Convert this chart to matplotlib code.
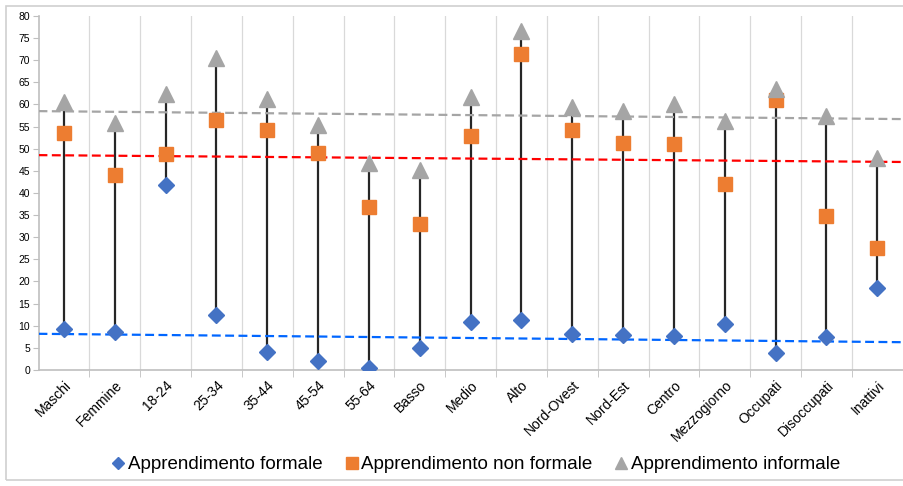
import matplotlib.pyplot as plt
import numpy as np

categorie = ['Maschi', 'Femmine', '18-24', '25-34', '35-44', '45-54', '55-64',
             'Basso', 'Medio', 'Alto', 'Nord-Ovest', 'Nord-Est', 'Centro',
             'Mezzogiorno', 'Occupati', 'Disoccupati', 'Inattivi']
formale = [9.3, 8.5, 41.7, 12.5, 4.1, 2.0, 0.5, 5.0, 10.9, 11.3,
           8.0, 7.9, 7.7, 10.4, 3.9, 7.4, 18.5]
non_formale = [53.6, 44.0, 48.9, 56.5, 54.2, 49.1, 36.8, 33.0, 52.9, 71.4,
               54.2, 51.3, 51.1, 42.0, 61.1, 34.8, 27.6]
informale = [60.5, 55.8, 62.4, 70.5, 61.2, 55.4, 46.8, 45.2, 61.6, 76.6,
             59.5, 58.5, 60.1, 56.3, 63.6, 57.4, 47.8]

# dashed reference lines (value at left edge, value at right edge)
linea_formale = [8.15, 6.25]
linea_non_formale = [48.55, 47.0]
linea_informale = [58.5, 56.7]

plt.rcParams['font.family'] = ['Liberation Sans', 'DejaVu Sans']

fig = plt.figure(figsize=(9.04, 4.86), dpi=100)
ax = fig.add_axes([0.0426, 0.239, 0.956, 0.728])

x = np.arange(len(categorie))
vals = np.array([formale, non_formale, informale])
lo = vals.min(axis=0)
hi = vals.max(axis=0)

ax.vlines(x, lo, hi, colors='#262626', linewidth=1.6, zorder=2)

edges = [x[0] - 0.5, x[-1] + 0.5]
ax.plot(edges, linea_informale, color='#A5A5A5', ls=(0, (4, 2)), lw=1.6, zorder=3)
ax.plot(edges, linea_non_formale, color='#FF0000', ls=(0, (4, 2)), lw=1.6, zorder=3)
ax.plot(edges, linea_formale, color='#0066FF', ls=(0, (4, 2)), lw=1.6, zorder=3)

ax.plot(x, formale, 'D', color='#4472C4', ms=8, ls='none', zorder=4,
        label='Apprendimento formale')
ax.plot(x, non_formale, 's', color='#ED7D31', ms=10, ls='none', zorder=4,
        label='Apprendimento non formale')
ax.plot(x, informale, '^', color='#A5A5A5', ms=11, ls='none', zorder=5,
        label='Apprendimento informale')

ax.set_xlim(edges)
ax.set_ylim(0, 80)
ax.set_yticks(np.arange(0, 81, 5))
ax.tick_params(axis='y', labelsize=7.5, length=4, color='#BFBFBF', pad=2)

ax.set_xticks(x)
ax.set_xticklabels(categorie, rotation=45, ha='right', rotation_mode='anchor',
                   fontsize=10)
ax.tick_params(axis='x', length=0, pad=6)
ax.set_xticks(np.arange(0.5, len(categorie) - 1, 1), minor=True)
ax.tick_params(axis='x', which='minor', length=5, color='#BFBFBF')
ax.grid(axis='x', which='minor', color='#D9D9D9', lw=0.9)

for side in ['top', 'right']:
    ax.spines[side].set_visible(False)
for side in ['left', 'bottom']:
    ax.spines[side].set_color('#BFBFBF')
    ax.spines[side].set_linewidth(1.2)

ax.legend(loc='center', bbox_to_anchor=(0.505, -0.268), ncol=3,
          frameon=False, fontsize=13.5, handletextpad=0.05, columnspacing=1.1,
          handlelength=0.9, markerscale=0.8, borderaxespad=0)

# outer chart border
fig.patches.append(plt.Rectangle((0.007, 0.012), 1.2, 0.975, transform=fig.transFigure,
                                 fill=False, edgecolor='#D0D0D0', lw=1.2))

fig.savefig('out.png', dpi=100)
